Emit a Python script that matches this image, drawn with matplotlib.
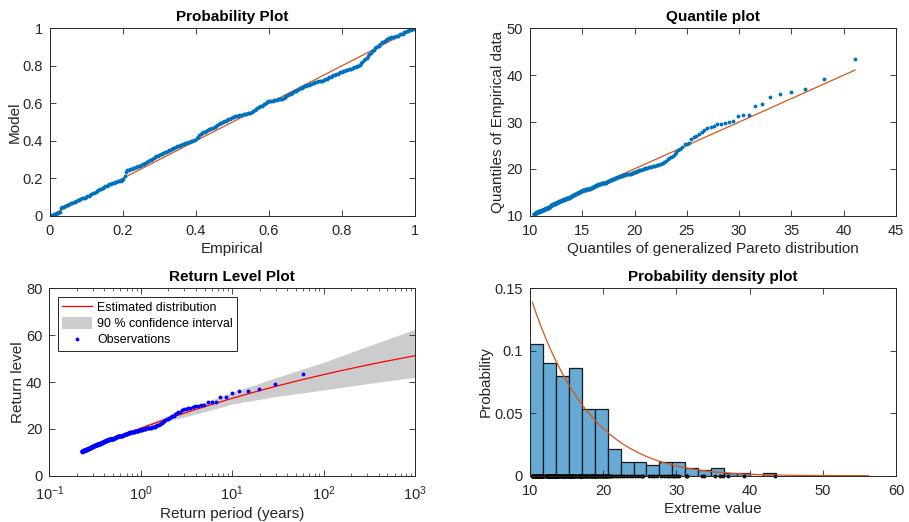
import numpy as np
import matplotlib
matplotlib.use("Agg")
import matplotlib.pyplot as plt
import matplotlib.ticker as mticker
from matplotlib.lines import Line2D
from matplotlib.patches import Patch

plt.rcParams["font.family"] = ["Liberation Sans", "DejaVu Sans"]
plt.rcParams["mathtext.fontset"] = "custom"
plt.rcParams["mathtext.rm"] = "Liberation Sans"

# ---------------------------------------------------------------------------
# DATA - sorted peaks over threshold (read off the quantile / histogram plots)
# ---------------------------------------------------------------------------
sample = [
    # 10.0 - 11.77
    10.32, 10.34, 10.36, 10.38, 10.40, 10.43, 10.45, 10.62,
    10.65, 10.67, 10.70, 10.72, 10.75, 10.77, 10.80, 10.82, 10.85, 10.87,
    10.90, 10.92, 10.95, 10.97, 11.00, 11.02, 11.04, 11.06,
    11.09, 11.12, 11.16, 11.19, 11.22, 11.25, 11.29, 11.32, 11.35, 11.39,
    11.42, 11.45, 11.48, 11.52, 11.55, 11.58, 11.62, 11.65, 11.68,
    11.70, 11.72, 11.74, 11.76,
    # 11.77 - 13.54
    11.78, 11.79, 11.81, 11.85, 12.00, 12.18,
    12.29, 12.31, 12.34, 12.36, 12.39, 12.41, 12.44, 12.46, 12.49, 12.51, 12.54,
    12.58, 12.62, 12.66, 12.70, 12.74, 12.79, 12.83, 12.87, 12.91, 12.95,
    13.00, 13.04, 13.08,
    13.12, 13.15, 13.19, 13.22, 13.26, 13.29, 13.33, 13.37, 13.40, 13.44,
    13.47, 13.51,
    # 13.54 - 15.30
    13.56, 13.59, 13.62, 13.65, 13.68, 13.71, 13.74, 13.77, 13.80, 13.83,
    13.86, 13.89, 13.92, 13.95,
    14.05, 14.15, 14.24, 14.31, 14.37,
    14.42, 14.47, 14.52, 14.57, 14.62, 14.66, 14.70, 14.74,
    14.80, 14.86, 14.92, 14.98, 15.04, 15.09, 15.14, 15.19, 15.23, 15.27,
    # 15.30 - 17.07
    15.33, 15.38, 15.43, 15.48,
    15.51, 15.54, 15.56, 15.59, 15.62, 15.65, 15.67, 15.70, 15.73, 15.76,
    15.78, 15.81, 15.84,
    15.91, 15.98, 16.06, 16.13, 16.20, 16.28, 16.35, 16.42, 16.49, 16.57,
    16.64, 16.71, 16.78,
    16.80, 16.83, 16.85, 16.88, 16.91, 16.93, 16.96, 16.99, 17.01, 17.04,
    # 17.07 - 18.84
    17.12, 17.21, 17.30,
    17.37, 17.45, 17.52, 17.60, 17.67, 17.75, 17.82, 17.90, 17.97, 18.05,
    18.12, 18.20, 18.27,
    18.33, 18.39, 18.45, 18.51, 18.57, 18.63, 18.69, 18.75, 18.80,
    # 18.84 - 20.61
    18.86, 18.88, 18.90, 18.92,
    19.00, 19.09, 19.17, 19.26, 19.34, 19.43, 19.51, 19.60, 19.68, 19.77,
    19.85, 19.94, 20.02,
    20.09, 20.16, 20.23, 20.30, 20.37, 20.44, 20.51, 20.57,
    # upper tail
    20.65, 20.75, 20.85, 20.95, 21.05, 21.20, 21.45, 21.75, 22.05, 22.30,
    22.50, 22.80, 23.20, 23.60, 24.00,
    24.30, 24.70, 25.20, 25.35, 25.50,
    26.30, 26.70, 27.00, 27.40,
    27.90, 28.30, 28.65, 28.90, 29.10,
    29.50, 29.60, 29.85, 30.10, 30.30,
    31.30, 31.40, 31.50,
    33.50, 33.80,
    35.30, 36.00, 36.30,
    37.10,
    39.20,
    43.50,
]

# fitted generalized Pareto parameters
gp_shape = -0.10
gp_scale = 7.20
gp_threshold = 10.31
record_years = 59.5          # length of record used for return periods

# 90 % confidence band of the return level
band_period = [0.7, 1.0, 2.0, 4.6, 10.0, 30.0, 100.0, 300.0, 1000.0]
band_lower = [17.8, 19.5, 23.4, 26.9, 30.6, 33.8, 36.6, 39.3, 42.0]
band_upper = [18.3, 21.0, 25.8, 30.9, 35.6, 41.8, 48.4, 55.2, 62.5]

# histogram bins
hist_edges = np.linspace(10.0, 43.59, 20)

# ---------------------------------------------------------------------------
# MODEL
# ---------------------------------------------------------------------------
x_sorted = np.sort(np.array(sample))
n = len(x_sorted)
k, s, u = gp_shape, gp_scale, gp_threshold


def gp_cdf(x):
    return 1 - (1 + k * (x - u) / s) ** (-1 / k)


def gp_inv(p):
    return u + s / k * ((1 - p) ** (-k) - 1)


def gp_pdf(x):
    return (1 / s) * (1 + k * (x - u) / s) ** (-1 / k - 1)


p_emp = np.arange(1, n + 1) / (n + 1)
q_model = gp_inv(p_emp)

lam = n / record_years
ret_period_obs = record_years / np.arange(n, 0, -1)
T_curve = np.logspace(np.log10(0.7), 3, 200)
rl_curve = u + s / k * ((lam * T_curve) ** k - 1)

# ---------------------------------------------------------------------------
# PLOTS
# ---------------------------------------------------------------------------
BLUE = "#0072BD"
ORANGE = "#D95319"
AXC = "#262626"

fig = plt.figure(figsize=(9.09, 5.22), dpi=100)
W, H = 909, 522


def make_ax(x0, x1, y0, y1):
    return fig.add_axes([x0 / W, 1 - y1 / H, (x1 - x0) / W, (y1 - y0) / H])


ax1 = make_ax(50, 415, 28.3, 215.7)
ax2 = make_ax(530, 896, 28.3, 215.7)
ax3 = make_ax(49.3, 415, 288.3, 475.7)
ax4 = make_ax(530, 896, 288.3, 475.7)

fmt = mticker.FuncFormatter(lambda v, pos: f"{v:g}")


def style(ax, title, xlabel, ylabel):
    ax.set_title(title, fontsize=11, fontweight="bold", color="black", pad=5)
    ax.set_xlabel(xlabel, fontsize=11, color=AXC, labelpad=3)
    ax.set_ylabel(ylabel, fontsize=11, color=AXC, labelpad=1)
    ax.tick_params(direction="in", top=True, right=True, length=4,
                   width=0.6, colors=AXC, labelsize=10.5)
    ax.tick_params(axis="x", pad=6)
    ax.tick_params(axis="y", pad=5)
    ax.tick_params(which="minor", direction="in", top=True, right=True,
                   length=2.5, width=0.5, colors=AXC)
    for sp in ax.spines.values():
        sp.set_color(AXC)
        sp.set_linewidth(0.7)


# -- Probability plot
ax1.plot([0, 1], [0, 1], color=ORANGE, lw=0.9)
ax1.plot(p_emp, gp_cdf(x_sorted), ".", color=BLUE, ms=3.5)
ax1.set_xlim(0, 1)
ax1.set_ylim(0, 1)
ax1.set_xticks(np.arange(0, 1.01, 0.2))
ax1.set_yticks(np.arange(0, 1.01, 0.2))
ax1.xaxis.set_major_formatter(fmt)
ax1.yaxis.set_major_formatter(fmt)
style(ax1, "Probability Plot", "Empirical", "Model")

# -- Quantile plot
ax2.plot([q_model[0], q_model[-1]], [q_model[0], q_model[-1]], color=ORANGE, lw=0.9)
ax2.plot(q_model, x_sorted, ".", color=BLUE, ms=3.5)
ax2.set_xlim(10, 45)
ax2.set_ylim(10, 50)
ax2.set_xticks(np.arange(10, 46, 5))
ax2.set_yticks(np.arange(10, 51, 10))
style(ax2, "Quantile plot", "Quantiles of generalized Pareto distribution",
      "Quantiles of Empirical data")

# -- Return level plot
ax3.fill_between(band_period, band_lower, band_upper, color="#CCCCCC", lw=0)
ax3.plot(T_curve, rl_curve, color="red", lw=0.9)
ax3.plot(ret_period_obs, x_sorted, ".", color="blue", ms=3.5)
ax3.set_xscale("log")
ax3.set_xlim(0.1, 1000)
ax3.set_ylim(0, 80)
ax3.set_yticks(np.arange(0, 81, 20))
ax3.xaxis.set_minor_locator(mticker.LogLocator(base=10, subs=np.arange(2, 10), numticks=20))
ax3.xaxis.set_minor_formatter(mticker.NullFormatter())
style(ax3, "Return Level Plot", "Return period (years)", "Return level")
handles = [Line2D([], [], color="red", lw=0.9),
           Patch(facecolor="#CCCCCC", edgecolor="none"),
           Line2D([], [], color="blue", marker=".", ls="none", ms=3.5)]
leg = ax3.legend(handles, ["Estimated distribution", "90 % confidence interval", "Observations"],
                 loc="upper left", bbox_to_anchor=(0.024, 0.954), fontsize=8.9,
                 fancybox=False, framealpha=1, edgecolor=AXC,
                 handlelength=2.4, handleheight=1.0, borderpad=0.35, labelspacing=0.28,
                 handletextpad=0.4, borderaxespad=0)
leg.get_frame().set_linewidth(0.7)

# -- Probability density plot
ax4.hist(x_sorted, bins=hist_edges, density=True, facecolor="#66AAD5",
         edgecolor="#1a1a1a", linewidth=0.9)
xx = np.linspace(x_sorted[0], 56.3, 300)
ax4.plot(xx, gp_pdf(xx), color=ORANGE, lw=0.9)
ax4.plot(x_sorted, np.zeros(n), ".", color="black", ms=3.5, clip_on=False)
ax4.set_xlim(10, 60)
ax4.set_ylim(0, 0.15)
ax4.set_xticks(np.arange(10, 61, 10))
ax4.set_yticks([0, 0.05, 0.1, 0.15])
ax4.yaxis.set_major_formatter(fmt)
style(ax4, "Probability density plot", "Extreme value", "Probability")

fig.savefig("out.png", dpi=100)
